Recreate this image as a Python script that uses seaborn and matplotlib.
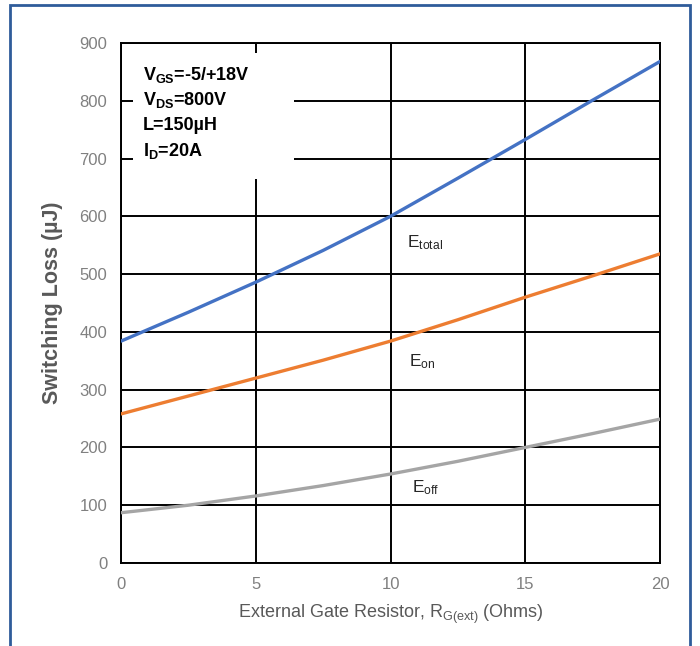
import numpy as np
import pandas as pd
import matplotlib.pyplot as plt
import seaborn as sns
from matplotlib.patches import Rectangle

# values
rg = [0, 2.5, 5, 7.5, 10, 12.5, 15, 17.5, 20]
e_total = [384, 434, 486, 541, 600, 666, 733, 801, 868]
e_on = [258, 289, 320, 351, 384, 421, 460, 497, 535]
e_off = [87, 100, 116, 134, 154, 176, 200, 224, 249]

series = ["Etotal", "Eon", "Eoff"]
colors = ["#4472C4", "#ED7D31", "#A5A5A5"]

df = pd.DataFrame({
    "rg": rg * 3,
    "loss": e_total + e_on + e_off,
    "curve": np.repeat(series, len(rg)),
})

sns.set_theme(style="white")
plt.rcParams["font.family"] = ["Liberation Sans", "DejaVu Sans"]
plt.rcParams["mathtext.default"] = "regular"

fig = plt.figure(figsize=(7, 6.46), dpi=100)
ax = fig.add_axes([0.1729, 0.1285, 0.77, 0.805])

sns.lineplot(data=df, x="rg", y="loss", hue="curve", palette=colors,
             linewidth=2.4, legend=False, ax=ax, zorder=3)

ax.set_xlim(0, 20)
ax.set_ylim(0, 900)
ax.set_xticks([0, 5, 10, 15, 20])
ax.set_yticks(range(0, 901, 100))
ax.grid(True, color="black", linewidth=1.4)
ax.set_axisbelow(True)
for s in ax.spines.values():
    s.set_color("black")
    s.set_linewidth(1.4)
ax.tick_params(length=0, labelsize=12, labelcolor="#808080", pad=10)

ax.set_xlabel(r"External Gate Resistor, R$_{G(ext)}$ (Ohms)", fontsize=13,
              color="#595959", labelpad=8)
ax.set_ylabel("Switching Loss (µJ)", fontsize=15.5, color="#595959",
              fontweight="bold", labelpad=12)

# white box with test conditions
ax.add_patch(Rectangle((0.45, 665), 5.95, 218, facecolor="white",
                       edgecolor="none", zorder=2.5))
cond = [r"V$_{GS}$=-5/+18V", r"V$_{DS}$=800V", "L=150µH", r"I$_{D}$=20A"]
for i, t in enumerate(cond):
    ax.text(0.8, 845 - i * 44, t, fontsize=13, fontweight="bold",
            color="black", va="center", zorder=4)

ax.text(10.6, 555, r"E$_{total}$", fontsize=12.5, va="center", zorder=4)
ax.text(10.7, 348, r"E$_{on}$", fontsize=12.5, va="center", zorder=4)
ax.text(10.8, 130, r"E$_{off}$", fontsize=12.5, va="center", zorder=4)

# blue frame around the chart
fig.patches.append(Rectangle((10 / 700, -0.05), 680 / 700, 1.05 - 5 / 646,
                             transform=fig.transFigure, fill=False,
                             edgecolor="#2F5C9A", linewidth=2))

fig.savefig("out.png", dpi=100)
